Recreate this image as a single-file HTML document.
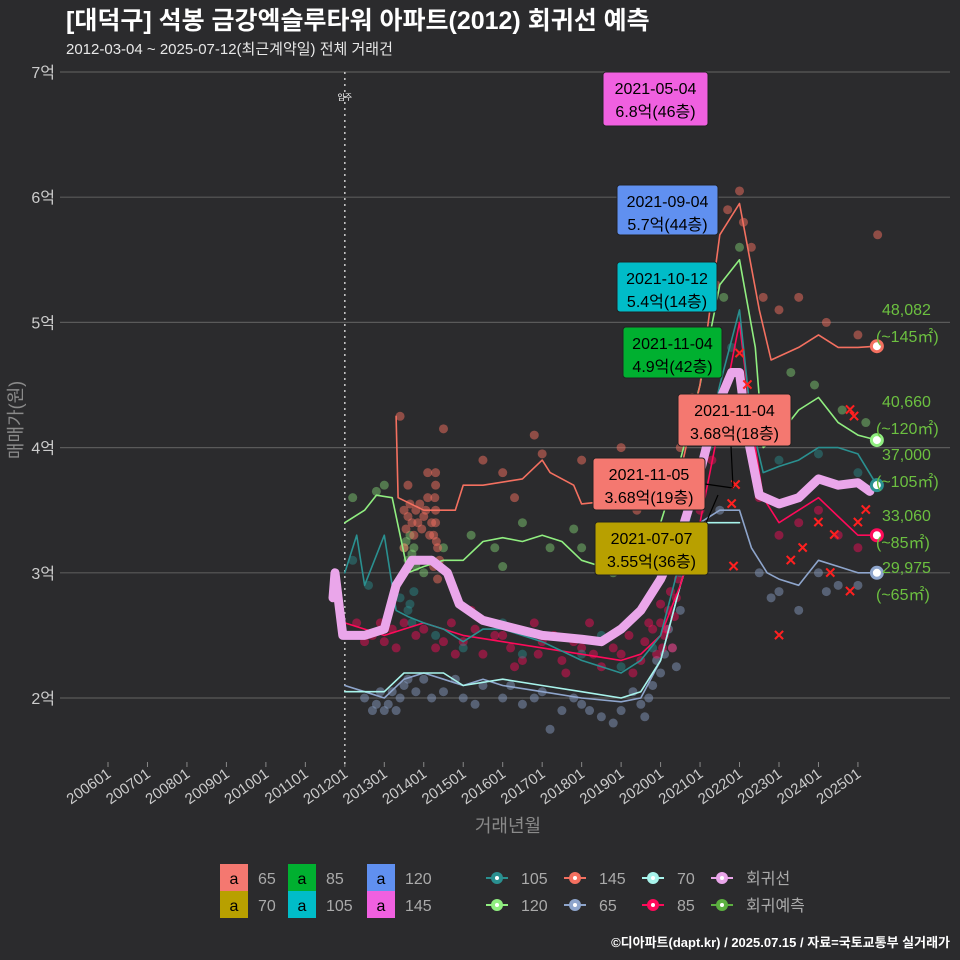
<!DOCTYPE html>
<html><head><meta charset="utf-8">
<style>
body{margin:0;background:#2b2b2d;}
svg{display:block;font-family:"Liberation Sans","Noto Sans CJK KR",sans-serif;}
</style></head>
<body>
<svg id="chart" width="960" height="960" viewBox="0 0 960 960">
<rect width="960" height="960" fill="#2b2b2d"/>
<text x="66" y="29" font-size="25" font-weight="bold" fill="#ffffff">[대덕구] 석봉 금강엑슬루타워 아파트(2012) 회귀선 예측</text>
<text x="66" y="54" font-size="15" fill="#e8e8e8">2012-03-04 ~ 2025-07-12(최근계약일) 전체 거래건</text>
<g id="grid"></g>
<g id="marks"></g>
<g id="labels"></g>
<text transform="translate(22,420) rotate(-90)" text-anchor="middle" font-size="18" fill="#8a8a8a">매매가(원)</text>
<text x="508" y="832" text-anchor="middle" font-size="18" fill="#8a8a8a">거래년월</text>
<g id="legend"></g>
<text x="950" y="947" text-anchor="end" font-size="13" font-weight="bold" fill="#ffffff">©디아파트(dapt.kr) / 2025.07.15 / 자료=국토교통부 실거래가</text>
</svg>
<script>
const yTicks=[2,3,4,5,6,7];
const yTickLabels=["2억","3억","4억","5억","6억","7억"];
const xTicks=[2006,2007,2008,2009,2010,2011,2012,2013,2014,2015,2016,2017,2018,2019,2020,2021,2022,2023,2024,2025];
const xTickLabels=["200601","200701","200801","200901","201001","201101","201201","201301","201401","201501","201601","201701","201801","201901","202001","202101","202201","202301","202401","202501"];
const moveInYear=2012;
// line series [year, 억]
const regT=[2011.7,2011.75,2011.85,2011.95,2012.1,2012.5,2013.0,2013.3,2013.7,2014.2,2014.6,2014.9,2015.5,2016.0,2017.0,2018.0,2018.5,2019.0,2019.5,2020.0,2020.5,2021.0,2021.4,2021.8,2022.0,2022.2,2022.5,2023.0,2023.5,2024.0,2024.5,2025.0,2025.3];
const regV=[2.8,3.0,2.75,2.5,2.5,2.5,2.55,2.9,3.1,3.1,3.0,2.75,2.62,2.58,2.5,2.47,2.45,2.55,2.7,2.95,3.3,3.8,4.3,4.6,4.6,4.1,3.62,3.55,3.6,3.75,3.7,3.72,3.65];
const s145T=[2013.3,2013.35,2014.0,2014.8,2015.0,2015.5,2016.5,2017.0,2017.2,2017.8,2018.0,2019.5,2020.5,2021.0,2021.5,2022.0,2022.5,2022.8,2023.5,2024.0,2024.5,2025.0,2025.48];
const s145V=[4.25,3.6,3.5,3.5,3.7,3.7,3.75,3.9,3.8,3.7,3.55,3.6,3.8,4.5,5.7,5.95,5.1,4.7,4.8,4.9,4.8,4.8,4.81];
const s120T=[2012.0,2012.5,2012.8,2013.2,2013.4,2013.6,2014.0,2014.5,2015.0,2015.5,2016.0,2016.5,2017.0,2017.5,2018.0,2018.5,2019.0,2019.5,2020.0,2020.5,2021.0,2021.5,2022.0,2022.4,2022.6,2023.0,2023.5,2024.0,2024.5,2025.0,2025.48];
const s120V=[3.4,3.5,3.62,3.6,3.3,3.0,3.05,3.1,3.1,3.25,3.28,3.25,3.3,3.25,3.1,3.05,3.05,3.1,3.4,3.9,4.5,5.3,5.5,4.8,4.0,4.1,4.3,4.4,4.2,4.1,4.06];
const s105T=[2012.0,2012.3,2012.5,2013.0,2013.3,2013.6,2014.0,2014.5,2015.0,2015.5,2016.0,2017.0,2018.0,2019.0,2019.5,2020.0,2020.5,2021.0,2021.5,2022.0,2022.3,2022.6,2023.0,2023.5,2024.0,2024.5,2025.0,2025.48];
const s105V=[3.0,3.3,2.9,3.3,2.7,2.65,2.6,2.55,2.45,2.55,2.55,2.45,2.3,2.2,2.3,2.5,3.1,3.8,4.5,5.1,4.2,3.8,3.85,3.9,4.0,4.0,3.95,3.7];
const s85T=[2012.0,2012.5,2013.0,2013.5,2014.0,2014.5,2015.0,2016.0,2017.0,2018.0,2019.0,2019.5,2020.0,2020.5,2021.0,2021.5,2022.0,2022.3,2022.6,2023.0,2023.5,2024.0,2024.5,2025.0,2025.48];
const s85V=[2.6,2.55,2.5,2.55,2.6,2.55,2.5,2.45,2.4,2.35,2.3,2.35,2.5,2.9,3.4,4.2,5.0,4.2,3.6,3.4,3.5,3.6,3.45,3.3,3.3];
const s65T=[2012.0,2012.5,2013.0,2013.5,2014.0,2014.5,2015.0,2015.5,2016.0,2017.0,2018.0,2019.0,2019.5,2020.0,2020.5,2021.0,2021.5,2022.0,2022.3,2022.7,2023.0,2023.5,2024.0,2024.5,2025.0,2025.48];
const s65V=[2.1,2.05,2.0,2.15,2.2,2.15,2.1,2.15,2.1,2.05,2.0,1.97,2.0,2.3,2.9,3.4,3.5,3.5,3.2,3.0,2.95,2.9,3.1,3.05,3.0,3.0];
const s70T=[2012.0,2013.0,2013.5,2014.5,2015.0,2016.0,2017.0,2018.0,2019.0,2019.5,2020.0,2020.5,2021.0,2021.5,2022.0];
const s70V=[2.05,2.05,2.2,2.2,2.1,2.15,2.1,2.05,2.0,2.05,2.3,2.9,3.4,3.4,3.4];
// scatter points
const p145=[[2013.5,3.5],[2013.6,3.45],[2013.7,3.4],[2013.8,3.5],[2013.9,3.55],[2014.0,3.45],[2014.1,3.6],[2014.2,3.4],[2014.25,3.3],[2014.3,3.5],[2014.3,3.7],[2014.35,3.2],[2014.4,3.1],[2014.1,3.8],[2013.6,3.7],[2013.5,3.2],[2013.55,3.35],[2013.65,3.55],[2013.75,3.3],[2013.85,3.4],[2013.95,3.35],[2014.05,3.5],[2014.15,3.3],[2014.28,3.6],[2014.3,3.4],[2014.32,3.25],[2014.3,3.8],[2014.25,3.05],[2014.35,2.95],[2015.5,3.9],[2016.3,3.6],[2017.0,3.95],[2018.5,3.7],[2019.4,3.5],[2020.5,4.0],[2020.8,4.4],[2021.0,4.3],[2021.2,4.6],[2021.4,5.3],[2021.7,5.9],[2022.0,6.05],[2022.1,5.8],[2022.3,5.6],[2022.6,5.2],[2023.0,5.1],[2023.5,5.2],[2024.2,5.0],[2025.0,4.9],[2025.5,5.7],[2013.4,4.25],[2014.5,4.15],[2016.0,3.8],[2018.0,3.9],[2019.0,4.0],[2016.8,4.1]];
const p120=[[2012.2,3.6],[2012.8,3.65],[2013.0,3.7],[2013.5,3.2],[2013.6,3.1],[2013.7,3.15],[2013.8,3.05],[2013.55,3.25],[2013.65,3.3],[2013.75,3.2],[2014.0,3.0],[2014.2,3.1],[2014.5,3.2],[2015.2,3.3],[2015.8,3.2],[2016.5,3.4],[2017.2,3.2],[2018.0,3.2],[2018.8,3.0],[2019.5,3.2],[2020.2,3.6],[2020.7,4.2],[2021.2,4.8],[2021.6,5.2],[2022.0,5.6],[2022.6,4.1],[2023.3,4.6],[2023.9,4.5],[2024.6,4.3],[2025.2,4.2],[2016.0,3.05],[2017.8,3.35]];
const p105=[[2012.2,3.1],[2012.6,2.9],[2013.4,2.8],[2013.6,2.7],[2013.7,2.6],[2013.65,2.75],[2013.75,2.85],[2014.3,2.5],[2015.0,2.4],[2016.0,2.6],[2017.0,2.5],[2018.0,2.35],[2019.0,2.25],[2019.8,2.4],[2020.5,3.0],[2021.2,4.0],[2021.8,4.8],[2022.3,4.3],[2023.0,3.9],[2024.0,3.95],[2025.0,3.8],[2016.5,2.35],[2018.5,2.5]];
const p85=[[2012.3,2.6],[2012.7,2.5],[2013.0,2.45],[2013.5,2.6],[2014.0,2.55],[2014.3,2.4],[2014.7,2.6],[2015.0,2.45],[2015.5,2.35],[2016.0,2.5],[2016.5,2.3],[2017.0,2.45],[2017.5,2.3],[2018.0,2.4],[2018.5,2.25],[2019.0,2.35],[2019.3,2.2],[2019.6,2.45],[2019.8,2.55],[2020.0,2.6],[2020.2,2.7],[2020.4,2.8],[2020.1,2.5],[2020.3,2.4],[2020.6,3.1],[2021.0,3.5],[2021.3,3.9],[2022.5,3.6],[2023.0,3.3],[2023.5,3.4],[2024.0,3.5],[2024.5,3.3],[2025.0,3.2],[2015.2,2.7],[2016.8,2.6],[2018.2,2.6],
[2012.5,2.45],[2012.9,2.6],[2013.2,2.55],[2013.8,2.5],[2014.5,2.45],[2015.3,2.55],[2015.8,2.5],[2016.2,2.4],[2016.9,2.35],[2017.3,2.5],[2017.8,2.45],[2018.3,2.35],[2018.8,2.4],[2019.2,2.5],[2019.5,2.3],[2019.9,2.35],[2020.0,2.75],[2020.15,2.55],[2020.25,2.85],[2020.35,2.65],[2020.45,2.95],[2020.05,2.4],[2019.7,2.6],[2017.6,2.2],[2016.3,2.25],[2014.8,2.35],[2013.3,2.4]];
const p65=[[2012.5,2.0],[2012.8,1.95],[2013.0,1.9],[2013.2,2.05],[2013.5,2.1],[2014.0,2.15],[2014.5,2.05],[2015.0,2.0],[2015.5,2.1],[2016.0,2.0],[2016.5,1.95],[2017.0,2.05],[2017.5,1.9],[2018.0,1.95],[2018.5,1.85],[2019.0,1.9],[2019.3,2.05],[2019.7,2.0],[2020.0,2.2],[2020.3,2.4],[2020.5,2.7],[2021.0,3.2],[2021.5,3.5],[2022.5,3.0],[2023.0,2.85],[2023.5,2.7],[2024.0,3.0],[2024.5,2.9],[2025.0,2.9],[2017.2,1.75],[2018.8,1.8],
[2012.9,2.05],[2013.1,1.95],[2013.3,1.9],[2013.4,2.0],[2012.7,1.9],[2013.6,2.15],[2013.8,2.05],[2014.2,2.0],[2014.8,2.15],[2015.3,1.95],[2016.2,2.1],[2016.8,2.0],[2017.8,2.0],[2018.2,1.9],[2019.5,1.95],[2019.8,2.1],[2019.9,2.3],[2020.1,2.35],[2020.2,2.55],[2020.4,2.25],[2019.6,1.85],[2022.8,2.8],[2024.2,2.85]];
const pX=[[2022.0,4.75],[2022.2,4.5],[2021.9,3.7],[2021.8,3.55],[2021.85,3.05],[2023.3,3.1],[2023.6,3.2],[2023.0,2.5],[2024.0,3.4],[2024.4,3.3],[2024.8,4.3],[2024.9,4.25],[2025.0,3.4],[2025.2,3.5],[2024.8,2.85],[2024.3,3.0]];
const endLabels=["48,082","(~145㎡)","40,660","(~120㎡)","37,000","(~105㎡)","33,060","(~85㎡)","29,975","(~65㎡)"];

const NS="http://www.w3.org/2000/svg";
function X(t){return 108+(t-2006)*39.47;}
function Y(v){return 698-(v-2)*125.2;}
function mk(tag,attrs,parent){const e=document.createElementNS(NS,tag);for(const k in attrs)e.setAttribute(k,attrs[k]);parent.appendChild(e);return e;}
const grid=document.getElementById('grid'),marks=document.getElementById('marks'),labels=document.getElementById('labels'),legend=document.getElementById('legend');
yTicks.forEach((v,i)=>{
  const l=mk('line',{x1:60,x2:950,y1:Y(v),y2:Y(v),stroke:'#5a5a5a','stroke-width':1.2},grid);
  
  
  const t=mk('text',{x:55,y:Y(v)+6,'text-anchor':'end','font-size':16,fill:'#cccccc'},grid);
  t.textContent=yTickLabels[i];
  
  
});
xTicks.forEach((t,i)=>{
  const l=mk('line',{x1:X(t),x2:X(t),y1:762,y2:767,stroke:'#888','stroke-width':1},grid);
  
  
  const tx=mk('text',{transform:`translate(${X(t)+4},${776}) rotate(-35)`,'text-anchor':'end','font-size':15,fill:'#cccccc'},grid);
  tx.textContent=xTickLabels[i];
  
  
});
const mv=mk('line',{x1:X(moveInYear),x2:X(moveInYear),y1:72,y2:765,stroke:'#cccccc','stroke-width':1.5,'stroke-dasharray':'2,4'},grid);


const mvt=mk('text',{x:X(moveInYear),y:100,'text-anchor':'middle','font-size':8,fill:'#fff'},grid);
mvt.textContent='입주';



function pts(arr,col,r,op,name){arr.forEach(p=>{const c=mk('circle',{cx:X(p[0]),cy:Y(p[1]),r:r,fill:col,'fill-opacity':op},marks);
  
  });}
pts(p65,'#8ea5cc',4.5,0.45,'point-65');
pts(p85,'#ff0a5a',4.5,0.45,'point-85');
pts(p105,'#2a9090',4.5,0.45,'point-105');
pts(p120,'#90ee80',4.5,0.4,'point-120');
pts(p145,'#f47060',4.5,0.5,'point-145');
function line(T,V,col,w,name){const d=T.map((t,i)=>(i?'L':'M')+X(t).toFixed(1)+','+Y(V[i]).toFixed(1)).join('');
  const p=mk('path',{d:d,fill:'none',stroke:col,'stroke-width':w,'stroke-linejoin':'round','stroke-linecap':'round'},marks);
  
  }
line(s65T,s65V,'#8ea5cc',1.6,'line-65');
line(s70T,s70V,'#a8f4ec',1.6,'line-70');
line(s85T,s85V,'#ff0a5a',1.6,'line-85');
line(s105T,s105V,'#2a9090',1.6,'line-105');
line(s120T,s120V,'#90ee80',1.6,'line-120');
line(s145T,s145V,'#f47060',1.6,'line-145');
line(regT,regV,'#eaa6ea',9,'regression-line');
pX.forEach(p=>{const g=mk('text',{x:X(p[0]),y:Y(p[1])+5,'text-anchor':'middle','font-size':15,'font-weight':'bold',fill:'#ff2020'},marks);g.textContent='✕';
  
  });
const ends=[[s145V,'#f47060'],[s120V,'#90ee80'],[s105V,'#2a9090'],[s85V,'#ff0a5a'],[s65V,'#8ea5cc']];
ends.forEach(e=>{const c=mk('circle',{cx:X(2025.48),cy:Y(e[0][e[0].length-1]),r:5.5,fill:'#fff',stroke:e[1],'stroke-width':3},marks);
  
  });
const ey=[315,342,407,434,460,487,521,548,573,600];
endLabels.forEach((s,i)=>{const t=mk('text',{x:i%2?876:882,y:ey[i],'font-size':16,fill:'#6cc040'},labels);t.textContent=s;
  
  });
const boxes=[[603,72,105,54,'#f060e0','2021-05-04','6.8억(46층)'],[617,185,101,50,'#6090f0','2021-09-04','5.7억(44층)'],[617,262,100,50,'#00bcc8','2021-10-12','5.4억(14층)'],[623,327,99,51,'#00b030','2021-11-04','4.9억(42층)'],[678,394,113,52,'#f47870','2021-11-04','3.68억(18층)'],[593,458,112,52,'#f47870','2021-11-05','3.68억(19층)'],[595,522,113,53,'#b8a000','2021-07-07','3.55억(36층)']];
mk('path',{d:'M731,446L733,487M705,484L733,488M706,523L718,495',stroke:'#000','stroke-width':1.2,fill:'none'},labels);
boxes.forEach(b=>{const r=mk('rect',{x:b[0],y:b[1],width:b[2],height:b[3],rx:3,fill:b[4],stroke:'#222','stroke-width':1},labels);
  
  
  const t1=mk('text',{x:b[0]+b[2]/2,y:b[1]+22,'text-anchor':'middle','font-size':16,fill:'#000'},labels);t1.textContent=b[5];
  
  
  const t2=mk('text',{x:b[0]+b[2]/2,y:b[1]+45,'text-anchor':'middle','font-size':16,fill:'#000'},labels);t2.textContent=b[6];
  
  });
// legend
const lb=[[220,864,'#f47870','65'],[220,891,'#b8a000','70'],[288,864,'#00b030','85'],[288,891,'#00bcc8','105'],[367,864,'#6090f0','120'],[367,891,'#f060e0','145']];
lb.forEach(b=>{const r=mk('rect',{x:b[0],y:b[1],width:28,height:27,fill:b[2]},legend);
  
  
  const a=mk('text',{x:b[0]+14,y:b[1]+20,'text-anchor':'middle','font-size':16,fill:'#000'},legend);a.textContent='a';
  const t=mk('text',{x:b[0]+38,y:b[1]+20,'font-size':16,fill:'#aaaaaa'},legend);t.textContent=b[3];
  
  });
const ll=[[497,878,'#2a9090','105'],[575,878,'#f47060','145'],[653,878,'#a8f4ec','70'],[722,878,'#eaa6ea','회귀선'],[497,905,'#90ee80','120'],[575,905,'#8ea5cc','65'],[653,905,'#ff0a5a','85'],[722,905,'#5cb040','회귀예측']];
ll.forEach(b=>{mk('line',{x1:b[0]-11,x2:b[0]+11,y1:b[1],y2:b[1],stroke:b[2],'stroke-width':2},legend);
  const c=mk('circle',{cx:b[0],cy:b[1],r:6,fill:b[2]},legend);
  
  
  mk('circle',{cx:b[0],cy:b[1],r:2,fill:'#fff'},legend);
  const t=mk('text',{x:b[0]+24,y:b[1]+6,'font-size':16,fill:'#aaaaaa'},legend);t.textContent=b[3];
  
  });
</script>
</body></html>
